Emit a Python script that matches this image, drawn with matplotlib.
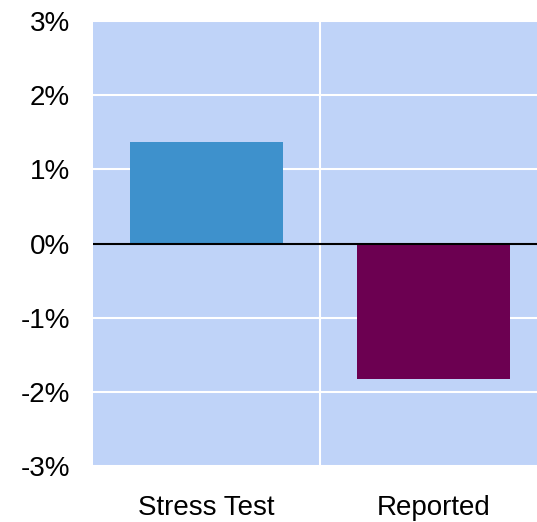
import matplotlib
matplotlib.use("Agg")
import matplotlib.pyplot as plt
from matplotlib.ticker import FuncFormatter, FixedLocator

categories = ["Stress Test", "Reported"]
values = [1.37, -1.83]
bar_colors = ["#3E91CC", "#6C0051"]
y_ticks = [-3, -2, -1, 0, 1, 2, 3]

plt.rcParams["font.family"] = ["Liberation Sans", "DejaVu Sans"]

fig = plt.figure(figsize=(5.37, 5.22), dpi=100)
ax = fig.add_axes([93 / 537, 1 - 466 / 522, 454 / 537, 445 / 522])
ax.set_facecolor("#BFD3F8")

x = range(len(categories))
ax.bar(x, values, width=0.67, color=bar_colors, zorder=3)
ax.axhline(0, color="black", lw=1.5, zorder=4)

ax.set_xlim(-0.5, len(categories) - 0.5)
ax.set_ylim(y_ticks[0], y_ticks[-1])
ax.set_yticks(y_ticks)
ax.yaxis.set_major_formatter(FuncFormatter(lambda v, p: f"{v:.0f}%"))
ax.set_xticks(list(x))
ax.set_xticklabels(categories)
ax.xaxis.set_minor_locator(FixedLocator([0.5]))

ax.grid(axis="y", which="major", color="white", lw=1.5, zorder=1)
ax.grid(axis="x", which="minor", color="white", lw=1.5, zorder=1)
ax.grid(axis="x", which="major", visible=False)

for s in ax.spines.values():
    s.set_visible(False)
ax.tick_params(axis="both", which="both", length=0, labelsize=20)
ax.tick_params(axis="y", pad=16.5)
ax.tick_params(axis="x", pad=21)

fig.savefig("out.png", dpi=100)
